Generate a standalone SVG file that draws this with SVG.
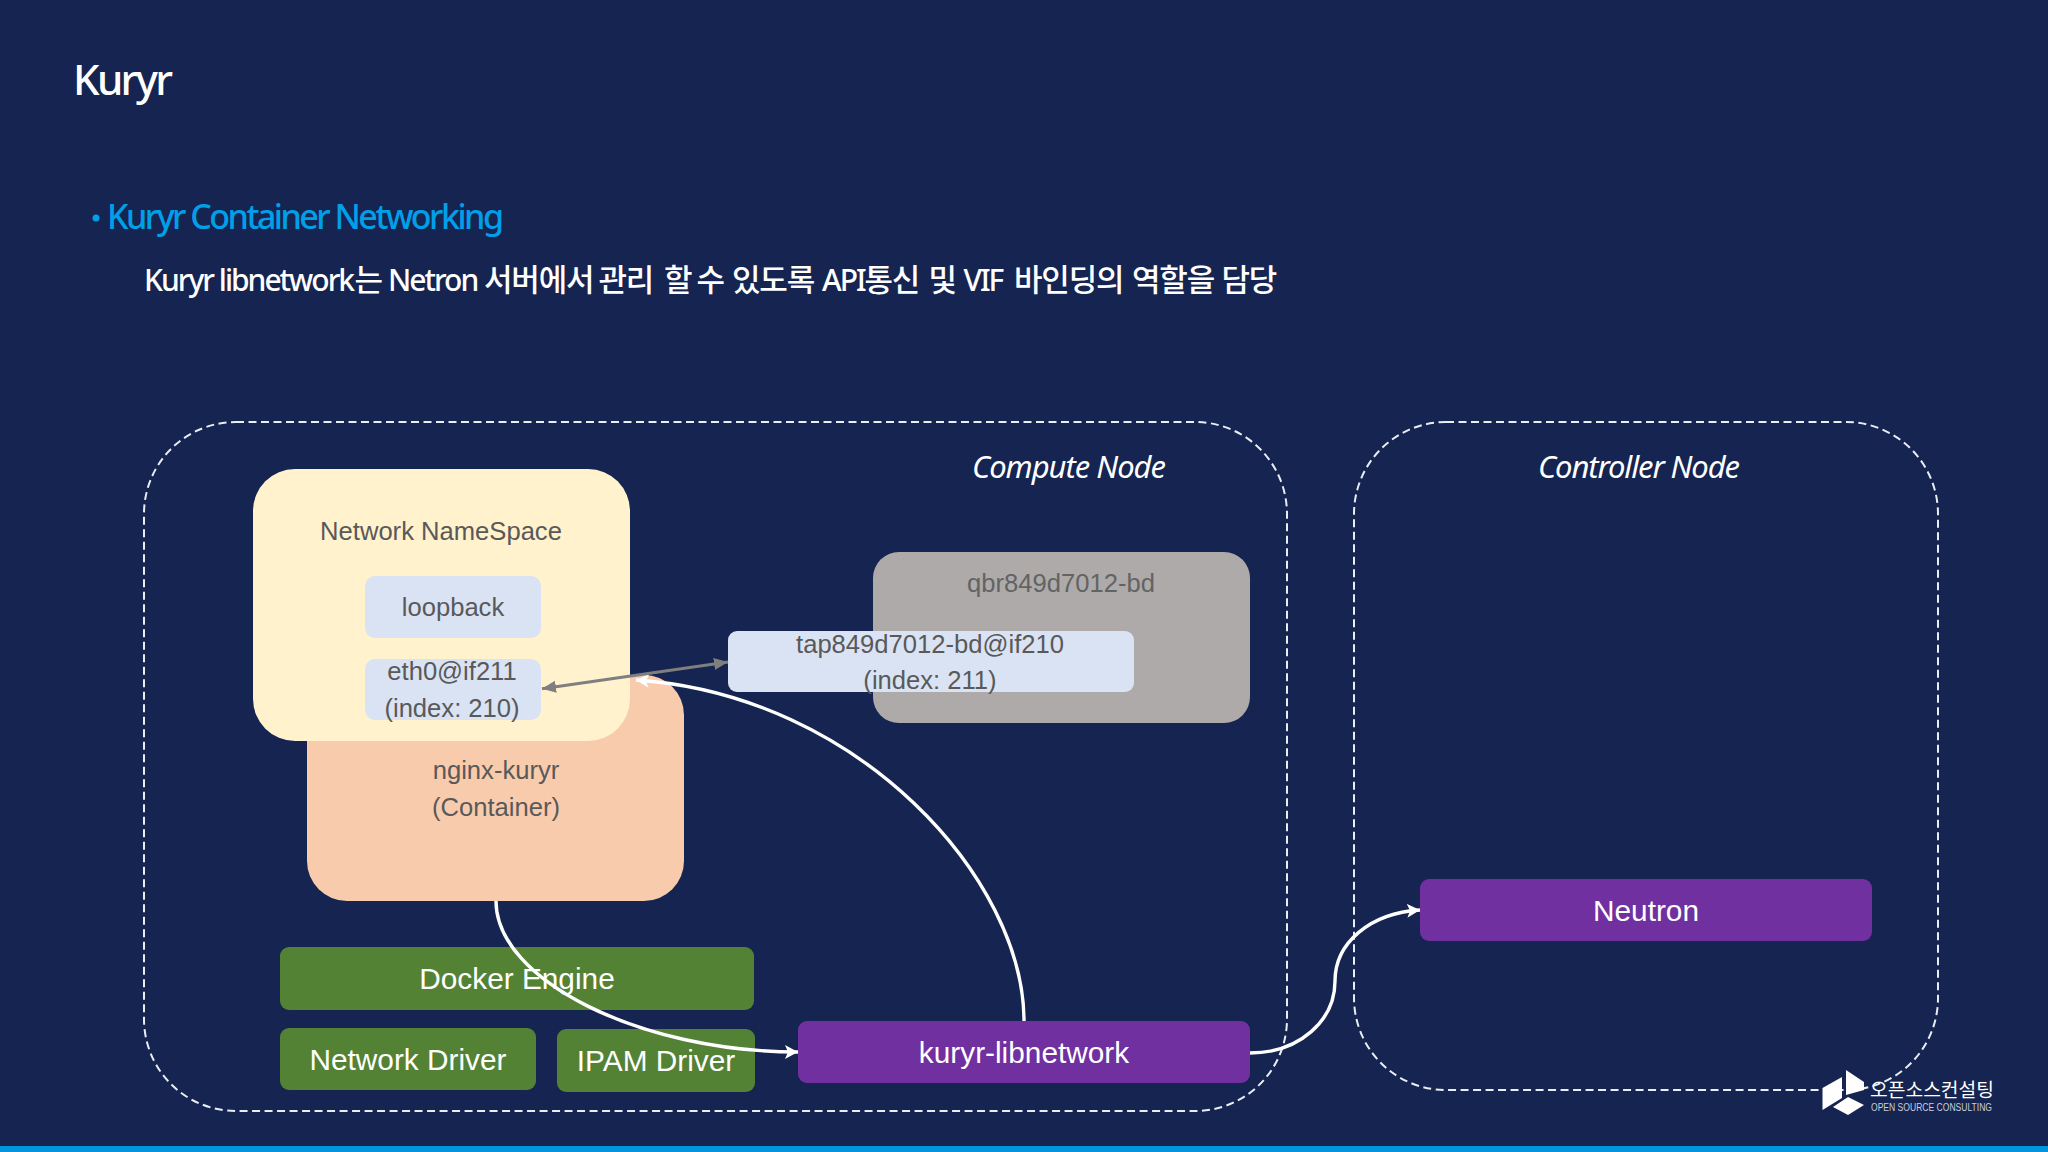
<svg xmlns="http://www.w3.org/2000/svg" width="2048" height="1152" viewBox="0 0 2048 1152">
<style>
text{font-family:"Liberation Sans",Arial,sans-serif}
.h{font-family:"Noto Sans","Noto Sans CJK KR",sans-serif;font-weight:500}
.ko{font-family:"Noto Sans CJK KR",sans-serif;font-size:31px;letter-spacing:-1.2px}
.la{letter-spacing:-2px}
.d{font-size:25.6px;fill:#595959;text-anchor:middle}
.w{font-size:29.8px;fill:#fff;text-anchor:middle}
.it{font-family:"Noto Sans",sans-serif;font-size:31px;font-style:italic;fill:#fff}
.dash{fill:none;stroke:#e9edf4;stroke-width:2;stroke-dasharray:8 4.5}
.c{fill:none;stroke:#fff;stroke-width:3.4}
.g{fill:#548235}.p{fill:#7030a0}.b{fill:#d9e3f3}
</style>
<defs>
<marker id="aw" markerUnits="userSpaceOnUse" markerWidth="16" markerHeight="16" refX="13" refY="7" orient="auto"><path d="M0 0L13 7L0 14L3 7Z" fill="#fff"/></marker>
<marker id="ag" markerUnits="userSpaceOnUse" markerWidth="16" markerHeight="16" refX="14" refY="6" orient="auto-start-reverse"><path d="M0 0L14 6L0 12Z" fill="#7f7f7f"/></marker>
</defs>
<rect width="2048" height="1152" fill="#152450"/>
<rect y="1146" width="2048" height="6" fill="#0095dc"/>
<text class="h" x="73" y="95" font-size="42" fill="#fff" textLength="100">Kuryr</text>
<circle cx="96" cy="218" r="3.5" fill="#00a0e9"/>
<text class="h" x="107" y="229" font-size="34" fill="#00a0e9" textLength="397">Kuryr Container Networking</text>
<text class="h" y="291" font-size="30" fill="#fff"><tspan class="la" x="144">Kuryr libnetwork</tspan><tspan class="ko" x="354.5">는</tspan><tspan class="la" x="388">Netron</tspan><tspan class="ko" x="484">서버에서</tspan><tspan class="ko" x="598.5">관리</tspan><tspan class="ko" x="664">할</tspan><tspan class="ko" x="696.5">수</tspan><tspan class="ko" x="732">있도록</tspan><tspan class="la" x="822">API</tspan><tspan class="ko" x="864.5">통신</tspan><tspan class="ko" x="928.5">및</tspan><tspan class="la" x="963.5">VIF</tspan><tspan class="ko" x="1014">바인딩의</tspan><tspan class="ko" x="1132">역할을</tspan><tspan class="ko" x="1221.5">담당</tspan></text>
<g id="compute-node"><rect class="dash" x="144" y="422" width="1143" height="689" rx="92" ry="92"/>
<text class="it" x="972" y="478" textLength="194">Compute Node</text></g>
<g id="controller-node"><rect class="dash" x="1354" y="422" width="584" height="668" rx="92" ry="92"/>
<text class="it" x="1538" y="478" textLength="202">Controller Node</text></g>
<g id="container"><rect x="307" y="675" width="377" height="226" rx="40" fill="#f8cbad"/>
<text class="d" x="496" y="779">nginx-kuryr</text><text class="d" x="496" y="816">(Container)</text></g>
<g id="namespace"><rect x="253" y="469" width="377" height="272" rx="42" fill="#fff2cc"/>
<text class="d" x="441" y="540">Network NameSpace</text></g>
<g id="loopback"><rect class="b" x="365" y="576" width="176" height="62" rx="10"/><text class="d" x="453" y="616">loopback</text></g>
<g id="eth0"><rect class="b" x="365" y="659" width="176" height="61" rx="10"/><text class="d" x="452" y="680">eth0@if211</text><text class="d" x="452" y="717">(index: 210)</text></g>
<g id="qbr"><rect x="873" y="552" width="377" height="171" rx="26" fill="#aeaaaa"/><text class="d" x="1061" y="592" style="fill:#636363">qbr849d7012-bd</text></g>
<g id="tap"><rect class="b" x="728" y="631" width="406" height="61" rx="9"/><text class="d" x="930" y="653">tap849d7012-bd@if210</text><text class="d" x="930" y="689">(index: 211)</text></g>
<g id="docker-engine"><rect class="g" x="280" y="947" width="474" height="63" rx="9"/><text class="w" x="517" y="989">Docker Engine</text></g>
<g id="network-driver"><rect class="g" x="280" y="1028" width="256" height="62" rx="9"/><text class="w" x="408" y="1070">Network Driver</text></g>
<g id="ipam-driver"><rect class="g" x="557" y="1029" width="198" height="63" rx="9"/><text class="w" x="656" y="1071">IPAM Driver</text></g>
<g id="kuryr-libnetwork"><rect class="p" x="798" y="1021" width="452" height="62" rx="9"/><text class="w" x="1024" y="1063">kuryr-libnetwork</text></g>
<g id="neutron"><rect class="p" x="1420" y="879" width="452" height="62" rx="9"/><text class="w" x="1646" y="921">Neutron</text></g>
<g id="connectors">
<path class="c" d="M496 901C496 980 640 1052 798 1052" marker-end="url(#aw)"/>
<path class="c" d="M1024 1021C1024 880 860 695 636 680" marker-end="url(#aw)"/>
<path class="c" d="M1250 1053C1300 1053 1335 1020 1335 981C1335 943 1370 913 1420 910" marker-end="url(#aw)"/>
<path d="M542 688.7L728 662" fill="none" stroke="#7f7f7f" stroke-width="3" marker-start="url(#ag)" marker-end="url(#ag)"/>
</g>
<g id="logo" fill="#fff">
<path d="M1846 1070L1864 1082V1090L1846 1095Z"/>
<path d="M1822.5 1088L1842 1077V1098L1822.5 1110Z"/>
<path d="M1833 1107L1848 1097L1864 1105L1848 1115Z"/>
<text x="1870" y="1097" font-size="19" textLength="124" lengthAdjust="spacingAndGlyphs" style="font-family:'Noto Sans CJK KR',sans-serif">오픈소스컨설팅</text>
<text x="1871" y="1111" font-size="10" textLength="121" lengthAdjust="spacingAndGlyphs" fill="#c9cfdb">OPEN SOURCE CONSULTING</text>
</g>
</svg>
